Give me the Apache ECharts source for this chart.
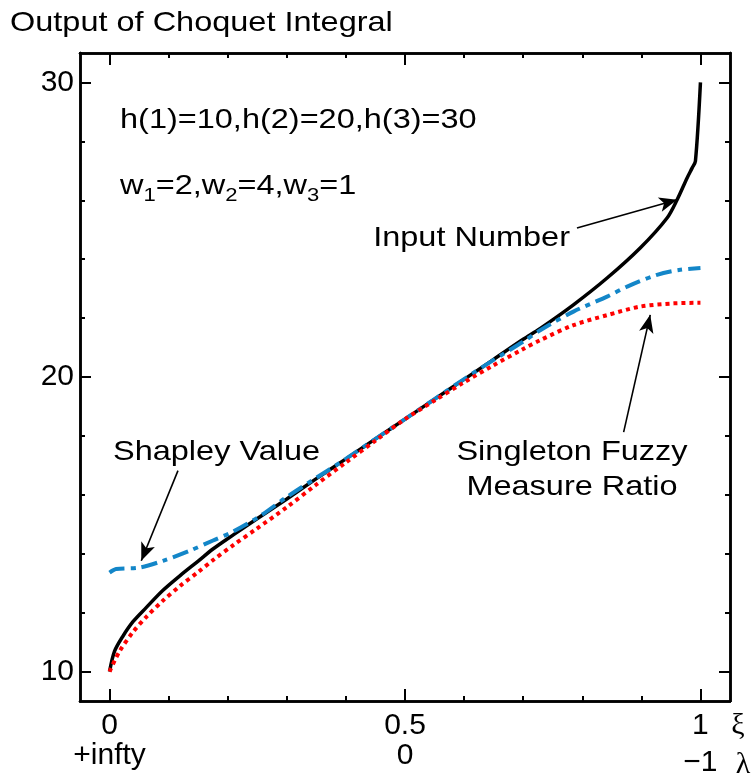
<!DOCTYPE html>
<html>
<head>
<meta charset="utf-8">
<script src="https://cdn.jsdelivr.net/npm/echarts@6/dist/echarts.min.js"></script>
<style>
html,body{margin:0;padding:0;background:#fff;}
#chart{width:756px;height:778px;}
</style>
</head>
<body>
<div id="chart"></div>
<script>
// ---- data ----
var inputX = [0, 0.0085, 0.0226, 0.04, 0.062, 0.09, 0.119, 0.15, 0.175, 0.21, 0.249, 0.3, 0.35, 0.4, 0.45, 0.5, 0.55, 0.6, 0.65, 0.7, 0.729, 0.785, 0.842, 0.898, 0.9435, 0.9605, 0.9774, 0.986, 0.9915, 1];
var inputY = [10, 10.69, 11.2, 11.7, 12.17, 12.75, 13.25, 13.75, 14.16, 14.65, 15.18, 15.86, 16.55, 17.22, 17.9, 18.57, 19.25, 19.92, 20.6, 21.28, 21.65, 22.45, 23.36, 24.38, 25.4, 26.02, 26.76, 27.1, 27.33, 30];

var shapleyX = [0, 0.0113, 0.0508, 0.0904, 0.1356, 0.1751, 0.209, 0.254, 0.2995, 0.35, 0.4, 0.45, 0.5, 0.55, 0.6, 0.65, 0.7, 0.7288, 0.785, 0.842, 0.876, 0.9265, 0.966, 1];
var shapleyY = [13.36, 13.48, 13.53, 13.76, 14.1, 14.45, 14.75, 15.27, 15.92, 16.58, 17.22, 17.9, 18.57, 19.25, 19.93, 20.58, 21.2, 21.59, 22.22, 22.73, 23.07, 23.47, 23.64, 23.7];

var singletonX = [0, 0.017, 0.04, 0.062, 0.09, 0.119, 0.15, 0.175, 0.21, 0.249, 0.3, 0.35, 0.4, 0.45, 0.5, 0.55, 0.6, 0.65, 0.7, 0.7288, 0.785, 0.842, 0.898, 0.955, 1];
var singletonY = [10, 10.69, 11.35, 11.85, 12.4, 12.9, 13.38, 13.78, 14.3, 14.85, 15.58, 16.35, 17.1, 17.84, 18.57, 19.2, 19.82, 20.4, 20.95, 21.25, 21.76, 22.1, 22.39, 22.5, 22.52];

var xTickValues = [0, 0.5, 1];
var xTickLabels = ['0', '0.5', '1'];
var lambdaLabels = ['+infty', '0', '\u22121'];
var xMinorTicks = [0, 0.1, 0.2, 0.3, 0.4, 0.5, 0.6, 0.7, 0.8, 0.9, 1];
var yTickValues = [10, 20, 30];
var yMinorTicks = [10, 12, 14, 16, 18, 20, 22, 24, 26, 28, 30];

// annotation arrows: [fromX, fromY, toX, toY] in data units
var arrowInput = [0.791, 25.06, 0.9605, 26.02];
var arrowShapley = [0.1158, 16.82, 0.0537, 13.76];
var arrowSingleton = [0.870, 18.13, 0.915, 22.11];

function pairs(xs, ys) { return xs.map(function (x, i) { return [x, ys[i]]; }); }
function arrow(a) {
  return {
    silent: true, symbol: ['none', 'arrow'], symbolSize: [11, 18],
    label: { show: false }, lineStyle: { color: '#000', width: 1.6, type: 'solid' },
    emphasis: { disabled: true },
    data: [[{ coord: [a[0], a[1]] }, { coord: [a[2], a[3]] }]]
  };
}

var FONT = 'Liberation Sans, Arial, Helvetica, sans-serif';
var FS = 30;      // axis labels
var AFS = 28;     // annotation font size
var SX = 1.16;    // horizontal stretch of annotation text
var chart = echarts.init(document.getElementById('chart'));

function xAx(pos, len, ticks, labels) {
  return {
    type: 'value', position: pos, min: -0.05, max: 1.05,
    axisLine: { show: true, onZero: false, lineStyle: { color: '#000', width: 2.5 } },
    axisTick: { show: true, inside: true, length: len, customValues: ticks, lineStyle: { color: '#000', width: 2 } },
    splitLine: { show: false },
    axisLabel: labels ? {
      show: true, customValues: xTickValues, margin: 10,
      formatter: function (v) {
        for (var i = 0; i < xTickValues.length; i++) {
          if (Math.abs(v - xTickValues[i]) < 1e-9) {
            var low = (i === xTickValues.length - 1) ? 'c' : 'a';
            return '{a|' + xTickLabels[i] + '}\n{' + low + '|' + lambdaLabels[i] + '}';
          }
        }
        return '';
      },
      rich: {
        a: { fontSize: FS, fontFamily: FONT, color: '#000', lineHeight: 30 },
        c: { fontSize: FS, fontFamily: FONT, color: '#000', lineHeight: 30, padding: [14, 0, 0, 0] }
      }
    } : { show: false }
  };
}
function yAx(pos, len, ticks, labels) {
  return {
    type: 'value', position: pos, min: 9, max: 31,
    axisLine: { show: true, onZero: false, lineStyle: { color: '#000', width: 2.5 } },
    axisTick: { show: true, inside: true, length: len, customValues: ticks, lineStyle: { color: '#000', width: 2 } },
    splitLine: { show: false },
    axisLabel: labels ? {
      show: true, customValues: yTickValues, margin: 6,
      fontSize: FS, fontFamily: FONT, color: '#000'
    } : { show: false }
  };
}
function txt(s, x, y, align) {
  return { type: 'text', x: x, y: y, scaleX: SX, style: { text: s, font: AFS + 'px ' + FONT, fill: '#000', align: align, verticalAlign: 'middle' } };
}

var option = {
  animation: false,
  backgroundColor: '#fff',
  grid: { left: 80, top: 53, right: 26, bottom: 76, containLabel: false },
  xAxis: [
    xAx('bottom', 5, xMinorTicks, true),
    xAx('bottom', 12, xTickValues, false),
    xAx('top', 5, xMinorTicks, false),
    xAx('top', 12, xTickValues, false)
  ],
  yAxis: [
    yAx('left', 5, yMinorTicks, true),
    yAx('left', 11, yTickValues, false),
    yAx('right', 5, yMinorTicks, false),
    yAx('right', 11, yTickValues, false)
  ],
  series: [
    {
      name: 'Input Number', type: 'line', data: pairs(inputX, inputY), showSymbol: false,
      smooth: 0.3,
      lineStyle: { color: '#000', width: 3.5 }, z: 3, markLine: arrow(arrowInput)
    },
    {
      name: 'Shapley Value', type: 'line', data: pairs(shapleyX, shapleyY), showSymbol: false,
      smooth: 0.3,
      lineStyle: { color: '#1386c8', width: 4, type: [16, 6, 5, 6], cap: 'butt' }, z: 4, markLine: arrow(arrowShapley)
    },
    {
      name: 'Singleton Fuzzy Measure Ratio', type: 'line', data: pairs(singletonX, singletonY), showSymbol: false,
      smooth: 0.3,
      lineStyle: { color: '#ff0000', width: 4, type: [4, 4], cap: 'butt' }, z: 5, markLine: arrow(arrowSingleton)
    }
  ],
  graphic: [
    txt('Output of Choquet Integral', 10, 23, 'left'),
    txt('h(1)=10,h(2)=20,h(3)=30', 120, 120, 'left'),
    { type: 'text', x: 120, y: 186, scaleX: SX, style: {
        text: '{n|w}{s|1}{n|=2,w}{s|2}{n|=4,w}{s|3}{n|=1}', align: 'left', verticalAlign: 'middle',
        rich: {
          n: { fontSize: AFS, fontFamily: FONT, color: '#000', lineHeight: 38 },
          s: { fontSize: 19, fontFamily: FONT, color: '#000', lineHeight: 19, verticalAlign: 'bottom' }
        } } },
    txt('Input Number', 570, 238, 'right'),
    txt('Shapley Value', 113, 452, 'left'),
    txt('Singleton Fuzzy', 572, 452, 'center'),
    txt('Measure Ratio', 572, 487, 'center'),
    { type: 'text', x: 738, y: 726, style: { text: '\u03be', font: FS + 'px Liberation Serif, serif', fill: '#000', align: 'center', verticalAlign: 'middle' } },
    { type: 'text', x: 743, y: 765, style: { text: '\u03bb', font: FS + 'px Liberation Serif, serif', fill: '#000', align: 'center', verticalAlign: 'middle' } }
  ]
};
chart.setOption(option);
</script>
</body>
</html>
